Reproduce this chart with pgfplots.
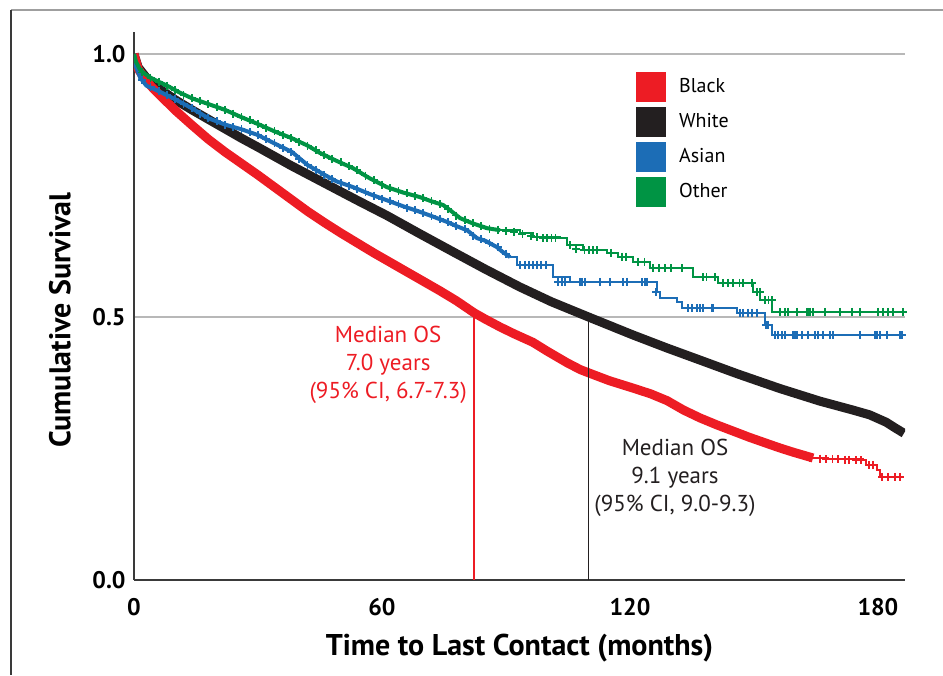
\documentclass[border=0pt]{standalone}
\usepackage{fontspec}
\setmainfont{PT Sans}
\usepackage{pgfplots}
\pgfplotsset{compat=1.18}
\definecolor{kmred}{HTML}{ED1C24}
\definecolor{kmblack}{HTML}{231F20}
\definecolor{kmblue}{HTML}{1C6DB6}
\definecolor{kmgreen}{HTML}{009444}
\definecolor{gridgray}{HTML}{B8B8B8}
\definecolor{axisgray}{HTML}{3A3A3A}

% survival curves (x in months, y = cumulative survival)
\pgfplotstableread{
x y
0 1.000
1 0.975
3 0.955
6 0.935
10 0.913
14 0.894
18 0.876
22 0.858
26 0.840
30 0.823
38 0.788
46 0.755
54 0.722
61.2 0.693
69 0.659
77.2 0.624
85 0.591
93.4 0.557
101 0.529
110 0.500
120.7 0.466
129 0.441
137 0.418
146 0.392
156.3 0.364
166 0.340
174 0.323
178 0.314
182 0.300
184 0.290
186.3 0.279
}\white

\pgfplotstableread{
x y
0 1.000
1 0.972
2 0.960
4 0.940
6 0.924
10 0.893
14 0.865
18 0.838
22 0.814
26 0.792
30 0.770
34 0.747
38 0.724
42 0.701
46 0.680
50 0.660
54 0.641
58 0.622
62 0.604
66 0.586
70 0.568
74 0.550
78 0.531
82.3 0.508
85 0.496
88.6 0.481
92 0.468
96.5 0.452
100 0.435
104.8 0.413
108 0.400
110.3 0.393
115 0.379
120.7 0.365
125 0.354
129 0.341
133 0.323
137 0.308
141 0.295
145 0.283
149 0.271
153 0.260
156.3 0.251
159.5 0.243
164.3 0.232
}\black

\pgfplotstableread{
x y
164.3 0.232
168 0.230
176.4 0.228
177.2 0.219
179.8 0.209
180.5 0.196
186.3 0.196
}\blacktail

\pgfplotstableread{
x y
163.6 0.232
166 0.231
167.5 0.230
169 0.230
170.3 0.230
172 0.229
173 0.229
174.7 0.228
176 0.228
177.8 0.219
178.8 0.219
181 0.196
182.4 0.196
184.1 0.196
185.3 0.196
}\blackcens

\pgfplotstableread{
x y
0 1.000
0.5 0.975
1.5 0.955
3 0.940
5.8 0.930
10 0.914
14 0.897
18 0.878
22 0.866
26 0.857
30 0.846
34 0.830
38.2 0.814
42 0.789
46.2 0.770
49 0.758
53 0.747
57 0.734
61.2 0.722
65 0.711
69.2 0.700
72 0.692
75.7 0.681
78 0.673
80.6 0.665
83 0.650
85 0.645
87.8 0.633
89 0.625
91 0.614
}\asianearly

\pgfplotstableread{
x y
91 0.614
92.6 0.599
101.4 0.576
105.5 0.567
126.5 0.548
127.3 0.536
131.4 0.529
132.6 0.517
145.8 0.508
152.7 0.485
154.4 0.466
186.3 0.466
}\asian

\pgfplotstableread{
x y
2 0.950
4 0.937
6 0.929
8 0.922
10 0.914
12 0.905
14 0.897
16 0.887
18 0.878
20 0.872
22 0.866
24 0.861
26 0.857
28 0.851
30 0.846
32 0.838
34 0.830
36 0.822
38 0.814
40 0.800
42 0.789
44 0.780
46 0.770
48 0.762
50 0.755
52 0.750
54 0.744
56 0.737
58 0.731
60 0.725
62 0.720
64 0.714
66 0.708
68 0.703
70 0.698
72 0.692
74 0.686
76 0.680
78 0.673
80 0.667
82 0.655
84 0.648
86 0.641
88 0.633
90 0.620
93.4 0.599
94.6 0.599
95.6 0.599
96.5 0.599
97.5 0.599
98.5 0.599
99.7 0.599
102.6 0.567
103.6 0.567
104.3 0.567
107.9 0.567
108.4 0.567
109.1 0.567
112.7 0.567
115.2 0.567
118.3 0.567
119.3 0.567
122.9 0.567
123.6 0.567
124.1 0.567
126.3 0.548
134 0.517
135 0.517
136.2 0.517
136.9 0.517
137.7 0.517
139.8 0.517
140.1 0.517
146.6 0.508
147.4 0.508
148.6 0.508
149.5 0.508
150.7 0.508
152.9 0.485
153.4 0.485
155.1 0.466
155.8 0.466
156.8 0.466
157.5 0.466
159.4 0.466
159.9 0.466
160.4 0.466
161.6 0.466
163.1 0.466
164.8 0.466
165.5 0.466
166.7 0.466
168.4 0.466
169.1 0.466
175.7 0.466
179.3 0.466
179.8 0.466
180.5 0.466
182.2 0.466
185.3 0.466
185.8 0.466
}\asiancens

\pgfplotstableread{
x y
0 1.000
0.5 0.985
1.5 0.970
2.7 0.962
4 0.955
5.8 0.948
8 0.940
11 0.927
14 0.916
18 0.905
22 0.894
26 0.880
30 0.867
34 0.853
38.2 0.840
42 0.826
45 0.812
49 0.797
53 0.783
57 0.764
61.2 0.747
65 0.737
69.2 0.728
72 0.720
74.8 0.713
77 0.700
78.9 0.688
82 0.678
85.4 0.669
88.6 0.665
}\otherearly

\pgfplotstableread{
x y
88.6 0.665
93.4 0.660
96.5 0.652
103 0.650
104.8 0.637
108.6 0.627
114.4 0.622
117 0.615
120.7 0.605
124.8 0.593
135.3 0.576
141.3 0.565
149.8 0.548
151.5 0.532
154.4 0.510
186.3 0.510
}\other

\pgfplotstableread{
x y
2 0.965
4 0.955
6 0.947
8 0.940
10 0.931
12 0.922
14 0.916
16 0.910
18 0.905
20 0.900
22 0.894
24 0.887
26 0.880
28 0.874
30 0.867
32 0.860
34 0.853
36 0.846
38 0.840
40 0.833
42 0.826
44 0.817
46 0.808
48 0.801
50 0.794
52 0.787
54 0.779
56 0.769
58 0.760
60 0.752
62 0.745
64 0.740
66 0.735
68 0.730
70 0.726
72 0.720
74 0.715
76 0.705
78 0.693
80 0.685
82 0.678
84 0.673
86 0.668
88 0.666
90 0.664
92 0.662
94 0.658
96 0.654
97.5 0.652
99 0.650
100 0.650
101 0.650
102 0.650
105.5 0.637
107 0.630
109 0.627
110 0.627
111 0.627
112 0.627
115.5 0.622
118 0.615
119 0.615
122 0.605
123.5 0.605
125.5 0.593
127 0.593
128.5 0.593
130 0.593
132.5 0.593
137.7 0.576
138.5 0.576
140.5 0.576
142.5 0.565
143.7 0.565
145 0.565
146.5 0.565
147.4 0.565
149.5 0.565
150.7 0.548
151.5 0.548
152.7 0.532
153.5 0.532
154.4 0.532
156.3 0.510
157.5 0.510
158.2 0.510
160.4 0.510
162.8 0.510
163.1 0.510
163.6 0.510
164.3 0.510
167.2 0.510
170.8 0.510
173.7 0.510
175.7 0.510
180 0.510
181.2 0.510
182.4 0.510
183.6 0.510
186 0.510
}\othercens

\begin{document}
\begin{tikzpicture}
\begin{axis}[
    width=385.5pt, height=274pt, scale only axis,
    xmin=0, xmax=186.55, ymin=0, ymax=1.042,
    axis lines=left,
    axis line style={-, axisgray, line width=0.8pt},
    xtick={0,60,120,180}, xticklabels={0,60,120,180},
    ytick={0,0.5,1}, yticklabels={0.0,0.5,1.0},
    major tick length=0pt,
    ymajorgrids,
    grid style={gridgray, line width=0.9pt},
    tick label style={font=\fontsize{12}{14}\selectfont\bfseries},
    xticklabel style={anchor=center, inner sep=0pt, yshift=-13.5pt},
    yticklabel style={anchor=east, inner sep=0pt, xshift=-4pt},
    xlabel={Time to Last Contact (months)},
    ylabel={Cumulative Survival},
    label style={font=\fontsize{15}{17}\selectfont\bfseries},
    xlabel style={at={(axis description cs:0.5,-0.124)}, anchor=center},
    ylabel style={at={(axis description cs:-0.096,0.474)}, anchor=center},
    legend style={at={(0.651,0.927)}, anchor=north west, draw=none, fill=none,
        inner sep=0pt, row sep=2.5pt, column sep=4.5pt,
        font=\fontsize{10}{12}\selectfont, cells={anchor=west}},
]
    \addplot[kmblack, line width=4.5pt, line join=round, forget plot] table {\white};

    \addplot[kmred, line width=4.5pt, line join=round, forget plot] table {\black};
    \addplot[kmred, line width=1pt, const plot, forget plot] table {\blacktail};
    \addplot[kmred, only marks, mark=+, mark size=2pt, mark options={line width=0.9pt}, forget plot] table {\blackcens};

    \addplot[kmblue, line width=2pt, line join=round, forget plot] table {\asianearly};
    \addplot[kmblue, line width=1pt, const plot, forget plot] table {\asian};
    \addplot[kmblue, only marks, mark=+, mark size=2pt, mark options={line width=0.9pt}, forget plot] table {\asiancens};

    \addplot[kmgreen, line width=2pt, line join=round, forget plot] table {\otherearly};
    \addplot[kmgreen, line width=1pt, const plot, forget plot] table {\other};
    \addplot[kmgreen, only marks, mark=+, mark size=2pt, mark options={line width=0.9pt}, forget plot] table {\othercens};

    % median survival markers
    \addplot[kmred, line width=0.7pt, forget plot] coordinates {(82.3,0) (82.3,0.5)};
    \addplot[kmblack, line width=0.7pt, forget plot] coordinates {(110,0) (110,0.5)};

    \node[kmred, align=center, font=\fontsize{11.5}{14}\selectfont] at (axis cs:61.5,0.409)
        {Median OS\\7.0 years\\(95\% CI, 6.7-7.3)};
    \node[kmblack, align=center, font=\fontsize{11.5}{14}\selectfont] at (axis cs:130.9,0.194)
        {Median OS\\9.1 years\\(95\% CI, 9.0-9.3)};

    \addlegendimage{legend image code/.code={\fill[kmred] (0pt,-7.25pt) rectangle (14.5pt,7.25pt);}}
    \addlegendentry{Black}
    \addlegendimage{legend image code/.code={\fill[kmblack] (0pt,-7.25pt) rectangle (14.5pt,7.25pt);}}
    \addlegendentry{White}
    \addlegendimage{legend image code/.code={\fill[kmblue] (0pt,-7.25pt) rectangle (14.5pt,7.25pt);}}
    \addlegendentry{Asian}
    \addlegendimage{legend image code/.code={\fill[kmgreen] (0pt,-7.25pt) rectangle (14.5pt,7.25pt);}}
    \addlegendentry{Other}

    \coordinate (bbBL) at (rel axis cs:-0.1738,-0.1734);
    \coordinate (bbTR) at (rel axis cs:1.0493,1.0584);
    \coordinate (frTL) at (rel axis cs:-0.1595,1.040);
    \coordinate (frTR) at (rel axis cs:1.0493,1.040);
    \coordinate (frBL) at (rel axis cs:-0.1595,-0.1734);
\end{axis}
\draw[gray!75, line width=1pt] (frTL) -- (frTR);
\draw[axisgray, line width=0.8pt] (frTL) -- (frBL);
\pgfresetboundingbox
\path[use as bounding box] (bbBL) rectangle (bbTR);
\end{tikzpicture}
\end{document}
